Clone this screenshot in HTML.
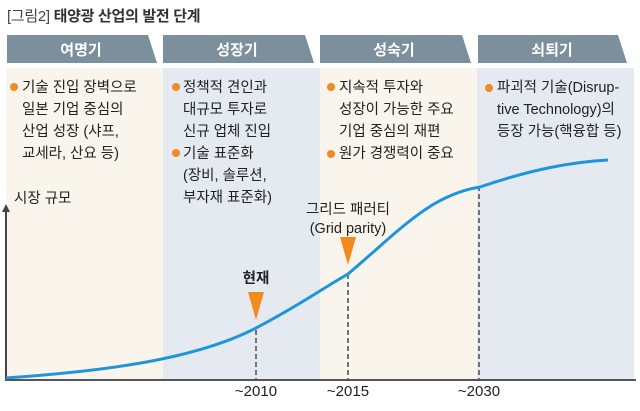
<!DOCTYPE html>
<html><head><meta charset="utf-8"><style>
body{margin:0;width:640px;height:406px;background:#fff;overflow:hidden;font-family:"Liberation Sans","Noto Sans CJK KR",sans-serif;}
</style></head><body>
<svg width="640" height="406" xmlns="http://www.w3.org/2000/svg" font-family="Liberation Sans, Noto Sans CJK KR, sans-serif">
<text x="7" y="21" font-size="15" fill="#444" letter-spacing="-0.3">[그림2] <tspan font-weight="bold" fill="#333">태양광 산업의 발전 단계</tspan></text>
<rect x="6" y="68" width="157" height="312" fill="#f9f5ec"/>
<rect x="163" y="68" width="157" height="312" fill="#e4eaf0"/>
<rect x="320" y="68" width="157" height="312" fill="#f9f5ec"/>
<rect x="477" y="68" width="157" height="312" fill="#e4eaf0"/>
<g fill="#7b909c">
<polygon points="7,35 148,35 157,63 7,63"/>
<polygon points="163,35 305,35 314,63 163,63"/>
<polygon points="320,35 462,35 471,63 320,63"/>
<polygon points="478,35 618,35 627,63 478,63"/>
</g>
<g fill="#fff" font-size="15" font-weight="bold" text-anchor="middle">
<text x="81" y="55">여명기</text><text x="237" y="55">성장기</text><text x="394" y="55">성숙기</text><text x="552" y="55">쇠퇴기</text>
</g>
<g fill="#f08a24">
<circle cx="14" cy="87" r="4"/><circle cx="176" cy="87" r="4"/><circle cx="176" cy="153" r="4"/>
<circle cx="331" cy="87" r="4"/><circle cx="331" cy="154" r="4"/><circle cx="489" cy="88" r="4"/>
</g>
<g font-size="14.5" fill="#222">
<text x="22" y="92">기술 진입 장벽으로</text><text x="22" y="114">일본 기업 중심의</text><text x="22" y="136">산업 성장 (샤프,</text><text x="22" y="158">교세라, 산요 등)</text>
<text x="183" y="92">정책적 견인과</text><text x="183" y="114">대규모 투자로</text><text x="183" y="136">신규 업체 진입</text><text x="183" y="158">기술 표준화</text><text x="183" y="180">(장비, 솔루션,</text><text x="183" y="202">부자재 표준화)</text>
<text x="339" y="92">지속적 투자와</text><text x="339" y="114">성장이 가능한 주요</text><text x="339" y="136">기업 중심의 재편</text><text x="339" y="158">원가 경쟁력이 중요</text>
<text x="497" y="92">파괴적 기술(Disrup-</text><text x="497" y="114">tive Technology)의</text><text x="497" y="136">등장 가능(핵융합 등)</text>
<text x="14" y="203">시장 규모</text>
<text x="348" y="214" text-anchor="middle">그리드 패러티</text><text x="348" y="233" text-anchor="middle">(Grid parity)</text>
<text x="256" y="283" text-anchor="middle" font-weight="bold">현재</text>
<text x="256" y="396" text-anchor="middle" font-size="15">~2010</text><text x="348" y="396" text-anchor="middle" font-size="15">~2015</text><text x="479" y="396" text-anchor="middle" font-size="15">~2030</text>
</g>
<line x1="6" y1="208" x2="6" y2="381" stroke="#444" stroke-width="2"/>
<polygon points="2,212 6,204 10,212" fill="#444"/>
<line x1="5" y1="380" x2="636" y2="380" stroke="#555" stroke-width="2"/>
<g stroke="#222" stroke-width="1.2" stroke-dasharray="5,3">
<line x1="256" y1="330" x2="256" y2="379"/><line x1="348" y1="274" x2="348" y2="379"/><line x1="479" y1="186" x2="479" y2="379"/>
</g>
<path d="M6,378 C90,372 190,362 256,328 C300,305 320,290 348,274 C400,230 430,195 480,187 C530,170 570,162 608,160" fill="none" stroke="#1d95dc" stroke-width="3"/>
<g fill="#f28a1e">
<polygon points="248,292 264,292 256,320"/><polygon points="340,237 356,237 348,265"/>
</g>
</svg>
</body></html>
